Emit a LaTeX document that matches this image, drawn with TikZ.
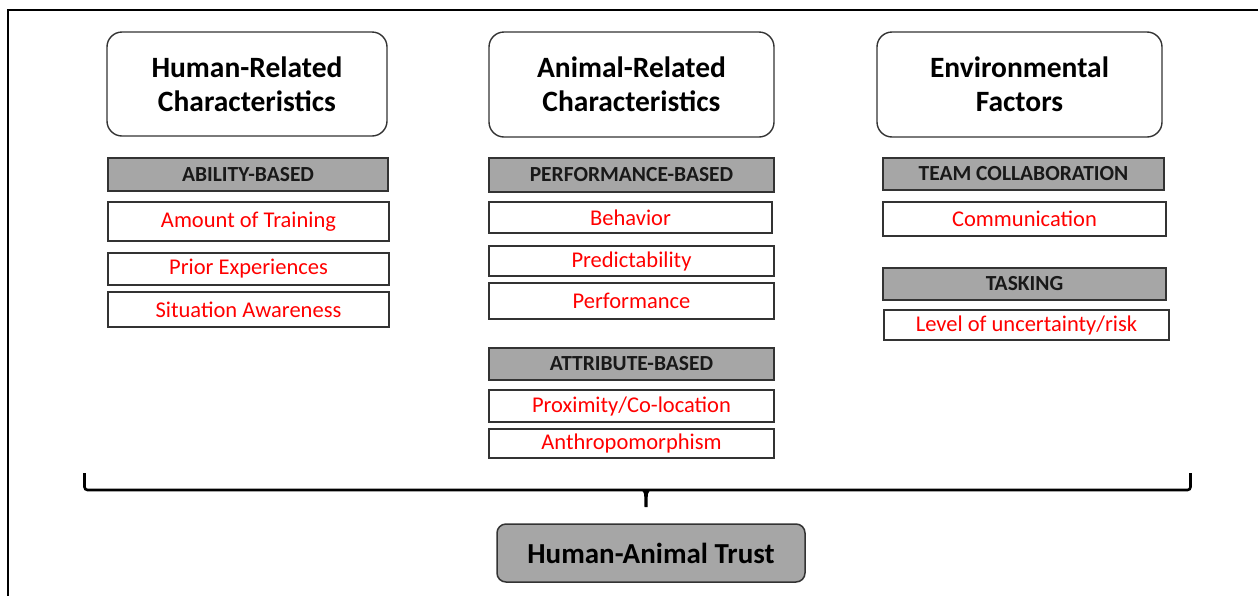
\documentclass[tikz,border=0pt]{standalone}
\usepackage{fontspec}
\setmainfont{Carlito}
\definecolor{hdrgray}{HTML}{A6A6A6}
\definecolor{edge}{HTML}{333333}
\definecolor{itemred}{HTML}{FF0000}
\tikzset{
  titlebox/.style={draw=edge, line width=1.4pt, rounded corners=15pt, fill=white, inner sep=0pt,
    align=center, font=\fontsize{29.5}{34}\selectfont\bfseries},
  hdrbox/.style={draw=edge, line width=1.5pt, fill=hdrgray, inner sep=0pt,
    font=\fontsize{21.5}{24}\selectfont\bfseries, text=black!90},
  itembox/.style={draw=edge, line width=1.3pt, fill=white, inner sep=0pt,
    font=\fontsize{22.5}{24}\selectfont, text=itemred},
  trustbox/.style={draw=edge, line width=1.5pt, fill=hdrgray, rounded corners=9pt, inner sep=0pt,
    font=\fontsize{29}{32}\selectfont\bfseries},
  bracestyle/.style={line width=2.6pt, black, rounded corners=3pt},
  framestyle/.style={line width=2pt, black}
}
\begin{document}
\begin{tikzpicture}[x=1pt,y=-1pt]
\useasboundingbox (0,0) rectangle (1258,595);
% frame
\coordinate (fb) at (8,596);
\coordinate (fc) at (8,10);
\coordinate (fr) at (1259,10);
\draw[framestyle] (fb) -- (fc) -- (fr);

% column 1
\node[titlebox, minimum width=280pt, minimum height=104pt] (t1) at (247,84) {Human-Related\\Characteristics};
\node[hdrbox, minimum width=280pt, minimum height=33pt] (h1) at (248,174.5) {ABILITY-BASED};
\node[itembox, minimum width=281pt, minimum height=39pt] (i11) at (248.5,221.5) {Amount of Training};
\node[itembox, minimum width=281pt, minimum height=32pt] (i12) at (248.5,269) {Prior Experiences};
\node[itembox, minimum width=281pt, minimum height=35pt] (i13) at (248.5,309.5) {Situation Awareness};

% column 2
\node[titlebox, minimum width=285pt, minimum height=105pt] (t2) at (631.5,84.5) {Animal-Related\\Characteristics};
\node[hdrbox, minimum width=285pt, minimum height=34pt] (h2) at (631.5,175) {PERFORMANCE-BASED};
\node[itembox, minimum width=283pt, minimum height=31pt] (i21) at (630.5,217.5) {Behavior};
\node[itembox, minimum width=285pt, minimum height=30pt] (i22) at (631.5,261) {Predictability};
\node[itembox, minimum width=285pt, minimum height=36pt] (i23) at (631.5,301) {Performance};
\node[hdrbox, minimum width=285pt, minimum height=32pt] (h3) at (631.5,364) {ATTRIBUTE-BASED};
\node[itembox, minimum width=285pt, minimum height=32pt] (i24) at (631.5,406) {Proximity/Co-location};
\node[itembox, minimum width=285pt, minimum height=29pt] (i25) at (631.5,443.5) {Anthropomorphism};

% column 3
\node[titlebox, minimum width=285pt, minimum height=105pt] (t3) at (1019.5,84.5) {Environmental\\Factors};
\node[hdrbox, minimum width=281pt, minimum height=32pt] (h4) at (1023.5,174) {TEAM COLLABORATION};
\node[itembox, minimum width=283pt, minimum height=34pt] (i31) at (1024.5,219) {Communication};
\node[hdrbox, minimum width=283pt, minimum height=32pt] (h5) at (1024.5,284) {TASKING};
\node[itembox, minimum width=285pt, minimum height=30pt] (i32) at (1026.5,325) {Level of uncertainty/risk};

% result
\node[trustbox, minimum width=308pt, minimum height=58pt] (trust) at (651,553) {Human-Animal Trust};

% brace
\coordinate (bl) at (84.5,473);
\coordinate (br) at (1190.5,473);
\coordinate (tip) at (646,507);
\draw[bracestyle] (bl) -- (84.5,490) -- (1190.5,490) -- (br);
\fill[black] (637,489) .. controls (643,490) and (644.3,492) .. (644.3,497) -- (644.5,507) -- (647.5,507) -- (647.7,497) .. controls (647.7,492) and (649,490) .. (655,489) -- cycle;
\end{tikzpicture}
\end{document}
